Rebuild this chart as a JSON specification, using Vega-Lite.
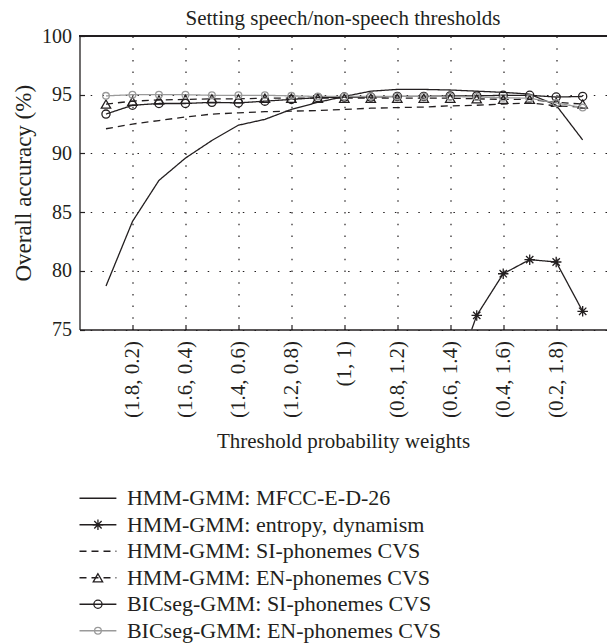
{
  "$schema": "https://vega.github.io/schema/vega-lite/v6.json",
  "padding": {"left": 12.5, "top": 8, "right": 0, "bottom": 0},
  "spacing": 33,
  "resolve": {"scale": {"x": "independent", "y": "independent"}},
  "config": {
    "font": "Liberation Serif",
    "view": {"stroke": null},
    "axis": {"labelFont": "Liberation Serif", "titleFont": "Liberation Serif", "labelColor": "#231f20", "titleColor": "#231f20", "titleFontWeight": "normal", "domainColor": "#231f20", "tickColor": "#231f20", "gridColor": "#231f20", "gridDash": [1.5, 10.2], "gridWidth": 1.2, "domainWidth": 1.3, "tickWidth": 1.2}
  },
  "datasets": {
    "acc": [
      {"s": "HMM-GMM: MFCC-E-D-26", "w": 1.9, "a": 78.7},
      {"s": "HMM-GMM: MFCC-E-D-26", "w": 1.8, "a": 84.2},
      {"s": "HMM-GMM: MFCC-E-D-26", "w": 1.7, "a": 87.7},
      {"s": "HMM-GMM: MFCC-E-D-26", "w": 1.6, "a": 89.6},
      {"s": "HMM-GMM: MFCC-E-D-26", "w": 1.5, "a": 91.1},
      {"s": "HMM-GMM: MFCC-E-D-26", "w": 1.4, "a": 92.4},
      {"s": "HMM-GMM: MFCC-E-D-26", "w": 1.3, "a": 92.9},
      {"s": "HMM-GMM: MFCC-E-D-26", "w": 1.2, "a": 93.75},
      {"s": "HMM-GMM: MFCC-E-D-26", "w": 1.1, "a": 94.35},
      {"s": "HMM-GMM: MFCC-E-D-26", "w": 1.0, "a": 94.85},
      {"s": "HMM-GMM: MFCC-E-D-26", "w": 0.9, "a": 95.3},
      {"s": "HMM-GMM: MFCC-E-D-26", "w": 0.8, "a": 95.45},
      {"s": "HMM-GMM: MFCC-E-D-26", "w": 0.7, "a": 95.45},
      {"s": "HMM-GMM: MFCC-E-D-26", "w": 0.6, "a": 95.4},
      {"s": "HMM-GMM: MFCC-E-D-26", "w": 0.5, "a": 95.3},
      {"s": "HMM-GMM: MFCC-E-D-26", "w": 0.4, "a": 95.2},
      {"s": "HMM-GMM: MFCC-E-D-26", "w": 0.3, "a": 95.05},
      {"s": "HMM-GMM: MFCC-E-D-26", "w": 0.2, "a": 94.1},
      {"s": "HMM-GMM: MFCC-E-D-26", "w": 0.1, "a": 91.15},
      {"s": "HMM-GMM: entropy, dynamism", "w": 0.6, "a": 69.9},
      {"s": "HMM-GMM: entropy, dynamism", "w": 0.5, "a": 76.2},
      {"s": "HMM-GMM: entropy, dynamism", "w": 0.4, "a": 79.75},
      {"s": "HMM-GMM: entropy, dynamism", "w": 0.3, "a": 80.95},
      {"s": "HMM-GMM: entropy, dynamism", "w": 0.2, "a": 80.75},
      {"s": "HMM-GMM: entropy, dynamism", "w": 0.1, "a": 76.55},
      {"s": "HMM-GMM: SI-phonemes CVS", "w": 1.9, "a": 92.1},
      {"s": "HMM-GMM: SI-phonemes CVS", "w": 1.8, "a": 92.5},
      {"s": "HMM-GMM: SI-phonemes CVS", "w": 1.7, "a": 92.8},
      {"s": "HMM-GMM: SI-phonemes CVS", "w": 1.6, "a": 93.1},
      {"s": "HMM-GMM: SI-phonemes CVS", "w": 1.5, "a": 93.35},
      {"s": "HMM-GMM: SI-phonemes CVS", "w": 1.4, "a": 93.45},
      {"s": "HMM-GMM: SI-phonemes CVS", "w": 1.3, "a": 93.55},
      {"s": "HMM-GMM: SI-phonemes CVS", "w": 1.2, "a": 93.6},
      {"s": "HMM-GMM: SI-phonemes CVS", "w": 1.1, "a": 93.65},
      {"s": "HMM-GMM: SI-phonemes CVS", "w": 1.0, "a": 93.75},
      {"s": "HMM-GMM: SI-phonemes CVS", "w": 0.9, "a": 93.85},
      {"s": "HMM-GMM: SI-phonemes CVS", "w": 0.8, "a": 93.9},
      {"s": "HMM-GMM: SI-phonemes CVS", "w": 0.7, "a": 93.95},
      {"s": "HMM-GMM: SI-phonemes CVS", "w": 0.6, "a": 94.05},
      {"s": "HMM-GMM: SI-phonemes CVS", "w": 0.5, "a": 94.1},
      {"s": "HMM-GMM: SI-phonemes CVS", "w": 0.4, "a": 94.2},
      {"s": "HMM-GMM: SI-phonemes CVS", "w": 0.3, "a": 94.3},
      {"s": "HMM-GMM: SI-phonemes CVS", "w": 0.2, "a": 94.05},
      {"s": "HMM-GMM: SI-phonemes CVS", "w": 0.1, "a": 93.95},
      {"s": "HMM-GMM: EN-phonemes CVS", "w": 1.9, "a": 94.2},
      {"s": "HMM-GMM: EN-phonemes CVS", "w": 1.8, "a": 94.45},
      {"s": "HMM-GMM: EN-phonemes CVS", "w": 1.7, "a": 94.55},
      {"s": "HMM-GMM: EN-phonemes CVS", "w": 1.6, "a": 94.6},
      {"s": "HMM-GMM: EN-phonemes CVS", "w": 1.5, "a": 94.65},
      {"s": "HMM-GMM: EN-phonemes CVS", "w": 1.4, "a": 94.65},
      {"s": "HMM-GMM: EN-phonemes CVS", "w": 1.3, "a": 94.7},
      {"s": "HMM-GMM: EN-phonemes CVS", "w": 1.2, "a": 94.7},
      {"s": "HMM-GMM: EN-phonemes CVS", "w": 1.1, "a": 94.7},
      {"s": "HMM-GMM: EN-phonemes CVS", "w": 1.0, "a": 94.7},
      {"s": "HMM-GMM: EN-phonemes CVS", "w": 0.9, "a": 94.7},
      {"s": "HMM-GMM: EN-phonemes CVS", "w": 0.8, "a": 94.7},
      {"s": "HMM-GMM: EN-phonemes CVS", "w": 0.7, "a": 94.7},
      {"s": "HMM-GMM: EN-phonemes CVS", "w": 0.6, "a": 94.7},
      {"s": "HMM-GMM: EN-phonemes CVS", "w": 0.5, "a": 94.65},
      {"s": "HMM-GMM: EN-phonemes CVS", "w": 0.4, "a": 94.6},
      {"s": "HMM-GMM: EN-phonemes CVS", "w": 0.3, "a": 94.6},
      {"s": "HMM-GMM: EN-phonemes CVS", "w": 0.2, "a": 94.35},
      {"s": "HMM-GMM: EN-phonemes CVS", "w": 0.1, "a": 94.2},
      {"s": "BICseg-GMM: SI-phonemes CVS", "w": 1.9, "a": 93.35},
      {"s": "BICseg-GMM: SI-phonemes CVS", "w": 1.8, "a": 94.1},
      {"s": "BICseg-GMM: SI-phonemes CVS", "w": 1.7, "a": 94.25},
      {"s": "BICseg-GMM: SI-phonemes CVS", "w": 1.6, "a": 94.25},
      {"s": "BICseg-GMM: SI-phonemes CVS", "w": 1.5, "a": 94.35},
      {"s": "BICseg-GMM: SI-phonemes CVS", "w": 1.4, "a": 94.3},
      {"s": "BICseg-GMM: SI-phonemes CVS", "w": 1.3, "a": 94.45},
      {"s": "BICseg-GMM: SI-phonemes CVS", "w": 1.2, "a": 94.6},
      {"s": "BICseg-GMM: SI-phonemes CVS", "w": 1.1, "a": 94.75},
      {"s": "BICseg-GMM: SI-phonemes CVS", "w": 1.0, "a": 94.8},
      {"s": "BICseg-GMM: SI-phonemes CVS", "w": 0.9, "a": 94.8},
      {"s": "BICseg-GMM: SI-phonemes CVS", "w": 0.8, "a": 94.85},
      {"s": "BICseg-GMM: SI-phonemes CVS", "w": 0.7, "a": 94.85},
      {"s": "BICseg-GMM: SI-phonemes CVS", "w": 0.6, "a": 94.9},
      {"s": "BICseg-GMM: SI-phonemes CVS", "w": 0.5, "a": 94.9},
      {"s": "BICseg-GMM: SI-phonemes CVS", "w": 0.4, "a": 94.95},
      {"s": "BICseg-GMM: SI-phonemes CVS", "w": 0.3, "a": 94.95},
      {"s": "BICseg-GMM: SI-phonemes CVS", "w": 0.2, "a": 94.8},
      {"s": "BICseg-GMM: SI-phonemes CVS", "w": 0.1, "a": 94.85},
      {"s": "BICseg-GMM: EN-phonemes CVS", "w": 1.9, "a": 94.9},
      {"s": "BICseg-GMM: EN-phonemes CVS", "w": 1.8, "a": 95.0},
      {"s": "BICseg-GMM: EN-phonemes CVS", "w": 1.7, "a": 95.0},
      {"s": "BICseg-GMM: EN-phonemes CVS", "w": 1.6, "a": 95.0},
      {"s": "BICseg-GMM: EN-phonemes CVS", "w": 1.5, "a": 94.95},
      {"s": "BICseg-GMM: EN-phonemes CVS", "w": 1.4, "a": 94.95},
      {"s": "BICseg-GMM: EN-phonemes CVS", "w": 1.3, "a": 94.95},
      {"s": "BICseg-GMM: EN-phonemes CVS", "w": 1.2, "a": 94.9},
      {"s": "BICseg-GMM: EN-phonemes CVS", "w": 1.1, "a": 94.85},
      {"s": "BICseg-GMM: EN-phonemes CVS", "w": 1.0, "a": 94.85},
      {"s": "BICseg-GMM: EN-phonemes CVS", "w": 0.9, "a": 94.85},
      {"s": "BICseg-GMM: EN-phonemes CVS", "w": 0.8, "a": 94.85},
      {"s": "BICseg-GMM: EN-phonemes CVS", "w": 0.7, "a": 94.85},
      {"s": "BICseg-GMM: EN-phonemes CVS", "w": 0.6, "a": 94.85},
      {"s": "BICseg-GMM: EN-phonemes CVS", "w": 0.5, "a": 94.8},
      {"s": "BICseg-GMM: EN-phonemes CVS", "w": 0.4, "a": 94.75},
      {"s": "BICseg-GMM: EN-phonemes CVS", "w": 0.3, "a": 94.7},
      {"s": "BICseg-GMM: EN-phonemes CVS", "w": 0.2, "a": 94.3},
      {"s": "BICseg-GMM: EN-phonemes CVS", "w": 0.1, "a": 93.9}
    ],
    "series": [
      {"s": "HMM-GMM: MFCC-E-D-26"},
      {"s": "HMM-GMM: entropy, dynamism"},
      {"s": "HMM-GMM: SI-phonemes CVS"},
      {"s": "HMM-GMM: EN-phonemes CVS"},
      {"s": "BICseg-GMM: SI-phonemes CVS"},
      {"s": "BICseg-GMM: EN-phonemes CVS"}
    ]
  },
  "vconcat": [
    {
      "width": 527,
      "height": 293.5,
      "title": {"text": "Setting speech/non-speech thresholds", "fontSize": 21, "fontWeight": "normal", "color": "#231f20", "font": "Liberation Serif", "anchor": "middle", "frame": "group", "offset": -3},
      "data": {"name": "acc"},
      "layer": [
        {
          "mark": {"type": "rule", "color": "#231f20", "strokeWidth": 1.3},
          "encoding": {"y": {"datum": 100, "type": "quantitative"}}
        },
        {
          "mark": {"type": "line", "strokeWidth": 1.3, "clip": true},
          "encoding": {
            "x": {"field": "w", "type": "quantitative", "scale": {"domain": [0.01, 2], "reverse": true, "nice": false, "zero": false},
              "axis": {"values": [1.8, 1.6, 1.4, 1.2, 1.0, 0.8, 0.6, 0.4, 0.2], "labelExpr": "datum.value == 1 ? '(1, 1)' : '(' + format(datum.value, '.1f') + ', ' + format(2 - datum.value, '.1f') + ')'", "labelAngle": -90, "labelFontSize": 21, "tickSize": -5, "labelPadding": 16, "grid": true, "title": "Threshold probability weights", "titleFontSize": 21, "titlePadding": 13}},
            "y": {"field": "a", "type": "quantitative", "scale": {"domain": [75, 100], "nice": false, "zero": false},
              "axis": {"values": [75, 80, 85, 90, 95, 100], "labelFontSize": 20, "tickSize": -5, "labelPadding": 13, "grid": true, "title": "Overall accuracy (%)", "titleFontSize": 23, "titlePadding": 6}},
            "color": {"field": "s", "type": "nominal", "legend": null,
              "scale": {"domain": ["HMM-GMM: MFCC-E-D-26", "HMM-GMM: entropy, dynamism", "HMM-GMM: SI-phonemes CVS", "HMM-GMM: EN-phonemes CVS", "BICseg-GMM: SI-phonemes CVS", "BICseg-GMM: EN-phonemes CVS"],
                "range": ["#231f20", "#231f20", "#231f20", "#231f20", "#231f20", "#9a9a9a"]}},
            "strokeDash": {"field": "s", "type": "nominal", "legend": null,
              "scale": {"domain": ["HMM-GMM: MFCC-E-D-26", "HMM-GMM: entropy, dynamism", "HMM-GMM: SI-phonemes CVS", "HMM-GMM: EN-phonemes CVS", "BICseg-GMM: SI-phonemes CVS", "BICseg-GMM: EN-phonemes CVS"],
                "range": [[1, 0], [1, 0], [7, 5], [7, 5], [1, 0], [1, 0]]}}
          }
        },
        {
          "transform": [{"filter": {"field": "s", "oneOf": ["HMM-GMM: entropy, dynamism", "HMM-GMM: EN-phonemes CVS", "BICseg-GMM: SI-phonemes CVS", "BICseg-GMM: EN-phonemes CVS"]}}],
          "mark": {"type": "point", "filled": false, "strokeWidth": 1.3, "clip": true, "opacity": 1},
          "encoding": {
            "x": {"field": "w", "type": "quantitative"},
            "y": {"field": "a", "type": "quantitative"},
            "color": {"field": "s", "type": "nominal", "legend": null},
            "shape": {"field": "s", "type": "nominal", "legend": null,
              "scale": {"domain": ["HMM-GMM: entropy, dynamism", "HMM-GMM: EN-phonemes CVS", "BICseg-GMM: SI-phonemes CVS", "BICseg-GMM: EN-phonemes CVS"],
                "range": ["M-1,0L1,0M0,-1L0,1M-0.7,-0.7L0.7,0.7M-0.7,0.7L0.7,-0.7", "triangle-up", "circle", "circle"]}},
            "size": {"field": "s", "type": "ordinal", "legend": null,
              "scale": {"domain": ["HMM-GMM: entropy, dynamism", "HMM-GMM: EN-phonemes CVS", "BICseg-GMM: SI-phonemes CVS", "BICseg-GMM: EN-phonemes CVS"],
                "range": [110, 45, 50, 50]}}
          }
        }
      ]
    },
    {
      "width": 527,
      "height": 159,
      "data": {"name": "series"},
      "encoding": {
        "y": {"field": "s", "type": "nominal", "axis": null,
          "scale": {"type": "point", "padding": 0.5, "domain": ["HMM-GMM: MFCC-E-D-26", "HMM-GMM: entropy, dynamism", "HMM-GMM: SI-phonemes CVS", "HMM-GMM: EN-phonemes CVS", "BICseg-GMM: SI-phonemes CVS", "BICseg-GMM: EN-phonemes CVS"]}}
      },
      "layer": [
        {
          "mark": {"type": "rule", "strokeWidth": 1.3},
          "encoding": {
            "x": {"datum": 0, "type": "quantitative", "scale": {"domain": [0, 100], "nice": false}, "axis": null},
            "x2": {"datum": 7},
            "color": {"field": "s", "type": "nominal", "legend": null},
            "strokeDash": {"field": "s", "type": "nominal", "legend": null}
          }
        },
        {
          "transform": [{"filter": {"field": "s", "oneOf": ["HMM-GMM: entropy, dynamism", "HMM-GMM: EN-phonemes CVS", "BICseg-GMM: SI-phonemes CVS", "BICseg-GMM: EN-phonemes CVS"]}}],
          "mark": {"type": "point", "filled": false, "strokeWidth": 1.3, "opacity": 1},
          "encoding": {
            "x": {"datum": 3.5, "type": "quantitative"},
            "color": {"field": "s", "type": "nominal", "legend": null},
            "shape": {"field": "s", "type": "nominal", "legend": null},
            "size": {"field": "s", "type": "ordinal", "legend": null}
          }
        },
        {
          "mark": {"type": "text", "align": "left", "baseline": "middle", "fontSize": 22, "font": "Liberation Serif", "color": "#231f20"},
          "encoding": {
            "x": {"datum": 9, "type": "quantitative"},
            "text": {"field": "s"}
          }
        }
      ]
    }
  ]
}
